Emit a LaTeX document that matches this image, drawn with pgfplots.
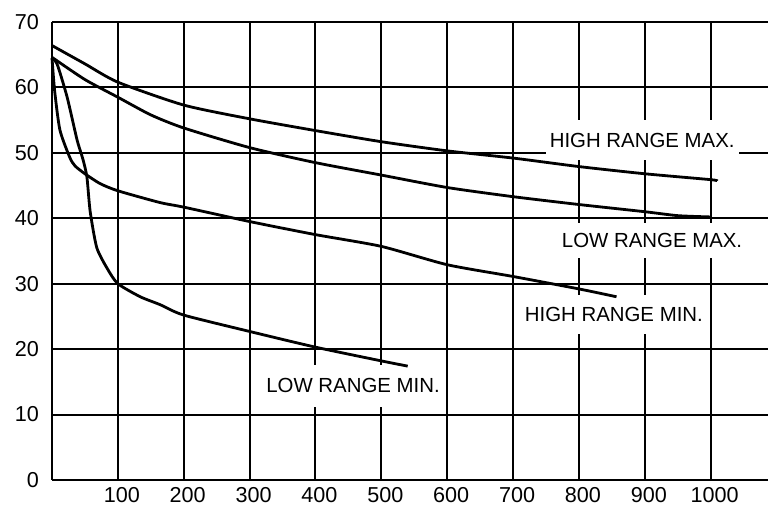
\documentclass[border=0pt]{standalone}
\usepackage{fontspec}
\setmainfont{Liberation Sans}
\usepackage{pgfplots}
\pgfplotsset{compat=1.18}

\begin{document}
\begin{tikzpicture}
\begin{axis}[name=ax, scale only axis, width=358pt, height=229pt,
  xmin=0, xmax=1087, ymin=0, ymax=70,
  axis lines=left, axis line style={-, black, line width=1.1pt},
  xtick={100,200,...,1000}, ytick={0,10,...,70},
  grid=major, major grid style={black, line width=1pt},
  major tick length=0pt,
  tick label style={font=\fontsize{10.8}{12}\selectfont},
  xticklabel style={xshift=2pt},
  yticklabel style={xshift=-3pt},
  /pgf/number format/assume math mode=true,
  /pgf/number format/set thousands separator={},
  clip=false,
  curve/.style={black, line width=1.4pt, line join=round, mark=none, smooth, tension=0.4}]

% labels first, so their white boxes cut the grid but not the curves
\node[fill=white, inner xsep=2pt, inner ysep=6.4pt, font=\fontsize{10.2}{12}\selectfont] at (axis cs:896,51.9) {HIGH RANGE MAX.};
\node[fill=white, inner xsep=2pt, inner ysep=5pt, font=\fontsize{10.2}{12}\selectfont] at (axis cs:911,36.6) {LOW RANGE MAX.};
\node[fill=white, inner xsep=2pt, inner ysep=6pt, font=\fontsize{10.2}{12}\selectfont] at (axis cs:853,25.3) {HIGH RANGE MIN.};
\node[fill=white, inner xsep=2pt, inner ysep=7pt, font=\fontsize{10.2}{12}\selectfont] at (axis cs:457,14.4) {LOW RANGE MIN.};

% high range max
\addplot[curve] coordinates {(0,66.4) (50,63.6) (100,60.8) (200,57.3) (300,55.2) (400,53.4)
  (500,51.7) (600,50.3) (700,49.2) (800,47.9) (900,46.8) (1000,45.9) (1010,45.7)};
% low range max
\addplot[curve] coordinates {(0,64.6) (50,61.2) (100,58.5) (150,55.8) (200,53.8) (300,50.8) (400,48.5)
  (500,46.6) (600,44.7) (700,43.3) (800,42.1) (900,41.0) (950,40.4) (1000,40.2)};
% high range min
\addplot[curve] coordinates {(0,64.5) (4,59.5) (12,53.5) (27,49.3) (35,48.0) (50,46.8) (73,45.3)
  (100,44.2) (164,42.4) (200,41.7) (300,39.5) (400,37.5) (500,35.7) (600,32.9)
  (700,31.1) (800,29.2) (857,28.0)};
% low range min
\addplot[curve] coordinates {(0,64.5) (8,63.5) (23,58.5) (38,52.0) (47,49.0) (53,46.3) (58,41.0)
  (68,35.5) (84,32.3) (100,30.0) (134,28.0) (164,26.8) (200,25.2) (300,22.7)
  (400,20.3) (500,18.2) (540,17.4)};
\end{axis}
\pgfresetboundingbox
\path ([shift={(-26pt,-14pt)}]ax.south west) rectangle ([shift={(0pt,11pt)}]ax.north east);
\end{tikzpicture}
\end{document}
